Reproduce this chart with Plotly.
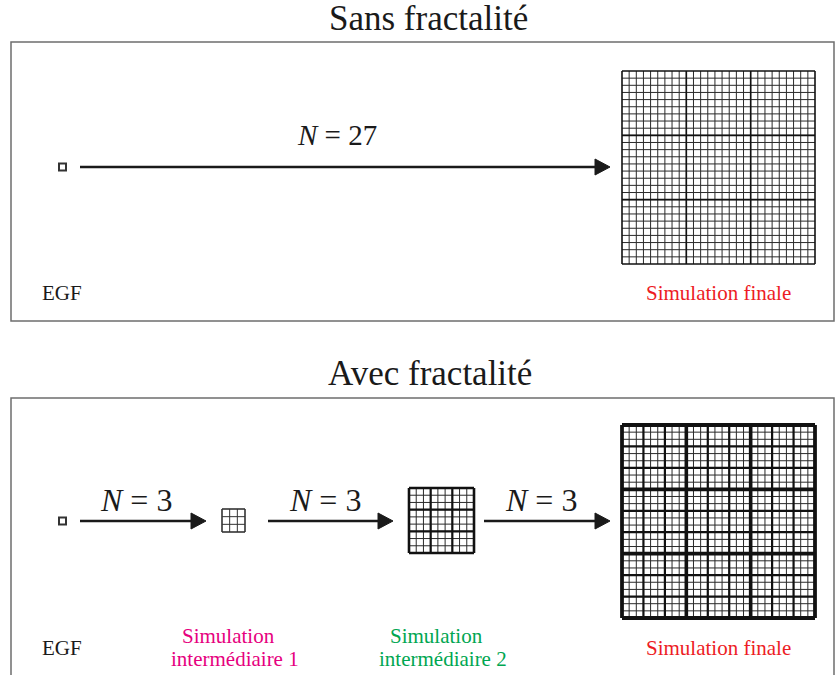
import plotly.graph_objects as go

# ---- content ----
titles = ["Sans fractalité", "Avec fractalité"]
top_steps = ["27"]
bottom_steps = ["3", "3", "3"]
grid_sides = [3, 9, 27]          # cells per side of the successive simulations
start_label = "EGF"
final_label = "Simulation finale"
inter_labels = ["Simulation", "intermédiaire 1", "Simulation", "intermédiaire 2"]
inter_colors = ["#e6007e", "#e6007e", "#00a651", "#00a651"]
final_color = "#ed1c24"

FONT = "Liberation Serif, Times New Roman, serif"
W, H = 835, 675

fig = go.Figure()


def add_lines(segs, width, color):
    xs, ys = [], []
    for (xa, ya, xb, yb) in segs:
        xs += [xa, xb, None]
        ys += [ya, yb, None]
    fig.add_trace(go.Scatter(x=xs, y=ys, mode="lines", hoverinfo="skip",
                             line=dict(color=color, width=width), showlegend=False))


def add_grid(x0, y0, size, n, levels, border):
    """levels: list of (every_k_cells, width, color), drawn in order."""
    c = size / n
    for k, w, col in levels:
        segs = []
        for i in range(k, n, k):
            p = i * c
            segs.append((x0 + p, y0, x0 + p, y0 + size))
            segs.append((x0, y0 + p, x0 + size, y0 + p))
        add_lines(segs, w, col)
    bw, bc = border
    add_lines([(x0, y0, x0 + size, y0), (x0 + size, y0, x0 + size, y0 + size),
               (x0 + size, y0 + size, x0, y0 + size), (x0, y0 + size, x0, y0)], bw, bc)


def add_arrow(xa, xb, y):
    head = 15
    add_lines([(xa, y, xb - head + 2, y)], 2.6, "#1a1a1a")
    fig.add_trace(go.Scatter(x=[xb - head, xb, xb - head, xb - head],
                             y=[y - 8, y, y + 8, y - 8], mode="lines", fill="toself",
                             fillcolor="#1a1a1a", line=dict(color="#1a1a1a", width=1),
                             hoverinfo="skip", showlegend=False))


def add_seed(cx, cy):
    fig.add_shape(type="rect", x0=cx - 3.5, x1=cx + 3.5, y0=cy - 3.5, y1=cy + 3.5,
                  line=dict(color="#333333", width=2), fillcolor="white")


def text(x, y, s, size, color="#1a1a1a"):
    fig.add_annotation(x=x, y=y, text=s, showarrow=False, xanchor="center",
                       yanchor="middle", font=dict(family=FONT, size=size, color=color))


# ---- panel frames ----
for (y0, y1) in [(42, 321), (398, 690)]:
    fig.add_shape(type="rect", x0=11, x1=834, y0=y0, y1=y1,
                  line=dict(color="#6e6e6e", width=1.5))

text(428, 18, titles[0], 35)
text(430, 373, titles[1], 35)

# ---- top panel: direct simulation ----
add_seed(62.5, 167)
add_arrow(80, 610, 167)
text(337, 135, "<i>N</i> = " + top_steps[0], 29)
add_grid(622, 71, 193, grid_sides[2],
         [(1, 1, "#2a2a2a"), (9, 1.6, "#111111")], (1.6, "#111111"))
text(62, 293, start_label, 21)
text(718, 293, final_label, 21, final_color)

# ---- bottom panel: fractal simulation ----
yb = 521
add_seed(62.5, yb)
arrows = [(80, 206), (268, 393), (484, 610)]
label_x = [136, 325, 541]
for (xa, xb), lx, n in zip(arrows, label_x, bottom_steps):
    add_arrow(xa, xb, yb)
    text(lx, 500, "<i>N</i> = " + n, 32)

add_grid(222, 509, 23, grid_sides[0], [(1, 1, "#333333")], (1.6, "#333333"))
add_grid(409, 488, 65, grid_sides[1],
         [(1, 1, "#2a2a2a"), (3, 2.2, "#111111")], (2.6, "#111111"))
add_grid(622, 425, 193, grid_sides[2],
         [(1, 1, "#2a2a2a"), (3, 2.2, "#111111"), (9, 3.6, "#111111")], (3.8, "#111111"))

text(62, 648, start_label, 21)
text(228, 636, inter_labels[0], 21, inter_colors[0])
text(235, 659, inter_labels[1], 21, inter_colors[1])
text(436, 636, inter_labels[2], 21, inter_colors[2])
text(443, 659, inter_labels[3], 21, inter_colors[3])
text(718, 648, final_label, 21, final_color)

fig.update_layout(
    width=W, height=H, margin=dict(l=0, r=0, t=0, b=0),
    plot_bgcolor="white", paper_bgcolor="white",
    xaxis=dict(range=[0, W], visible=False, fixedrange=True),
    yaxis=dict(range=[H, 0], visible=False, fixedrange=True),
    showlegend=False,
)

fig.write_html("out.html",
               config={"displayModeBar": False, "staticPlot": True},
               post_script="document.body.style.margin='0';document.body.style.overflow='hidden';")
